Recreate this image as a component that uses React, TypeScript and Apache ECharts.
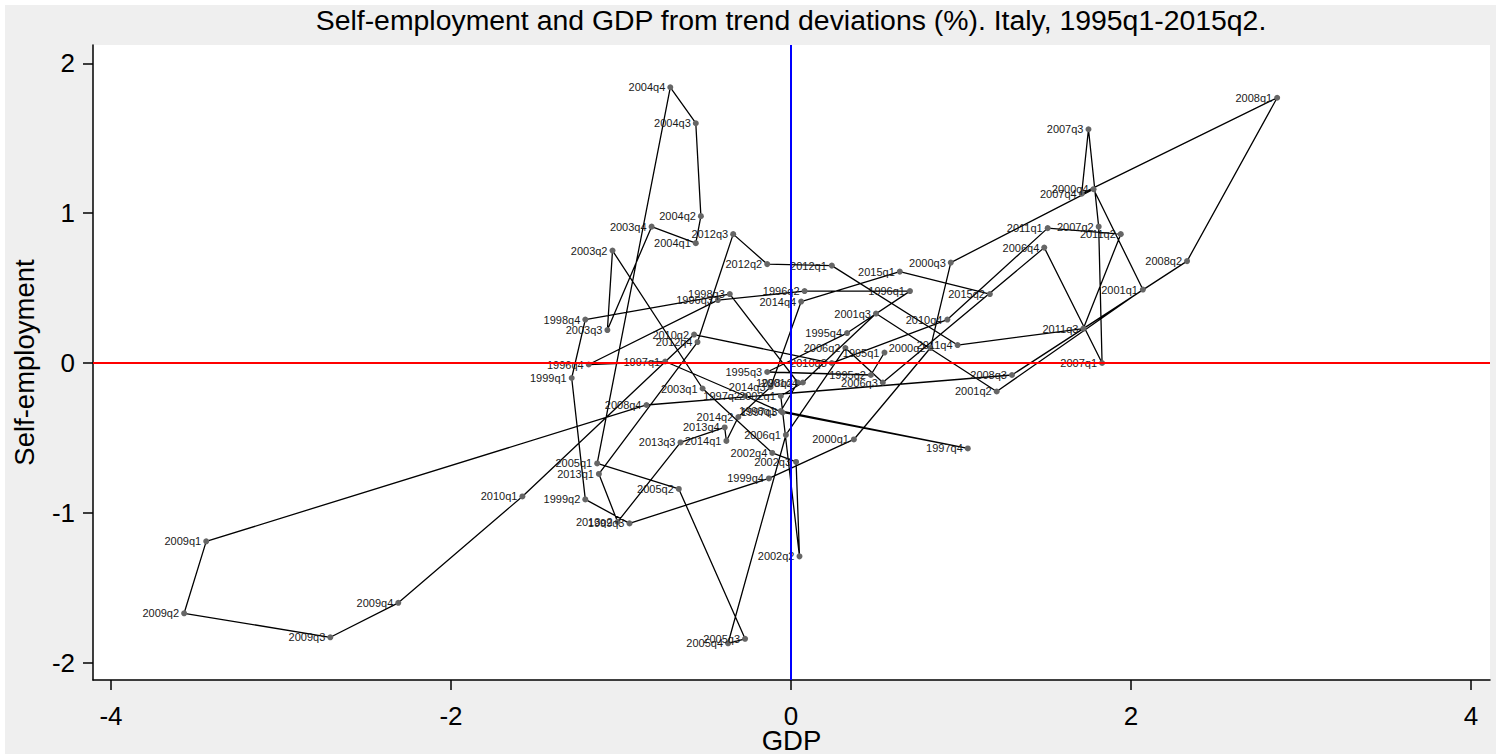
import { useEffect, useRef } from 'react'
import * as echarts from 'echarts'

// quarters, in time order (the path is drawn through them in this order)
const quarters = [
  '1995q1', '1995q2', '1995q3', '1995q4', '1996q1', '1996q2', '1996q3', '1996q4',
  '1997q1', '1997q2', '1997q3', '1997q4', '1998q1', '1998q2', '1998q3', '1998q4',
  '1999q1', '1999q2', '1999q3', '1999q4', '2000q1', '2000q2', '2000q3', '2000q4',
  '2001q1', '2001q2', '2001q3', '2001q4', '2002q1', '2002q2', '2002q3', '2002q4',
  '2003q1', '2003q2', '2003q3', '2003q4', '2004q1', '2004q2', '2004q3', '2004q4',
  '2005q1', '2005q2', '2005q3', '2005q4', '2006q1', '2006q2', '2006q3', '2006q4',
  '2007q1', '2007q2', '2007q3', '2007q4', '2008q1', '2008q2', '2008q3', '2008q4',
  '2009q1', '2009q2', '2009q3', '2009q4', '2010q1', '2010q2', '2010q3', '2010q4',
  '2011q1', '2011q2', '2011q3', '2011q4', '2012q1', '2012q2', '2012q3', '2012q4',
  '2013q1', '2013q2', '2013q3', '2013q4', '2014q1', '2014q2', '2014q3', '2014q4',
  '2015q1', '2015q2',
]

// GDP, deviation from trend (%)
const gdp = [
  0.55, 0.47, -0.14, 0.33, 0.70, 0.08, -0.43, -1.19,
  -0.74, -0.27, -0.05, 1.04, -0.06, 0.04, -0.36, -1.21,
  -1.29, -1.21, -0.95, -0.13, 0.37, 0.82, 0.94, 1.78,
  2.07, 1.21, 0.50, 0.07, -0.06, 0.05, 0.03, -0.11,
  -0.52, -1.05, -1.08, -0.82, -0.56, -0.53, -0.56, -0.71,
  -1.14, -0.66, -0.27, -0.37, -0.03, 0.32, 0.54, 1.49,
  1.83, 1.81, 1.75, 1.71, 2.86, 2.33, 1.30, -0.85,
  -3.44, -3.57, -2.71, -2.31, -1.58, -0.57, 0.24, 0.92,
  1.51, 1.94, 1.72, 0.98, 0.24, -0.14, -0.34, -0.55,
  -1.13, -1.02, -0.65, -0.39, -0.38, -0.31, -0.12, 0.06,
  0.64, 1.17,
]

// self-employment, deviation from trend (%)
const selfEmp = [
  0.07, -0.08, -0.06, 0.20, 0.48, 0.48, 0.42, -0.01,
  0.01, -0.22, -0.33, -0.57, -0.32, -0.13, 0.46, 0.29,
  -0.10, -0.91, -1.07, -0.77, -0.51, 0.10, 0.67, 1.16,
  0.49, -0.19, 0.33, -0.13, -0.22, -1.29, -0.66, -0.60,
  -0.17, 0.75, 0.22, 0.91, 0.80, 0.98, 1.60, 1.84,
  -0.67, -0.84, -1.84, -1.87, -0.48, 0.10, -0.13, 0.77,
  0.00, 0.91, 1.56, 1.13, 1.77, 0.68, -0.08, -0.28,
  -1.19, -1.67, -1.83, -1.60, -0.89, 0.19, 0.00, 0.29,
  0.90, 0.86, 0.23, 0.12, 0.65, 0.66, 0.86, 0.14,
  -0.74, -1.06, -0.53, -0.43, -0.52, -0.36, -0.16, 0.41,
  0.61, 0.46,
]

const xTicks = [-4, -2, 0, 2, 4]
const yTicks = [-2, -1, 0, 1, 2]

const FONT = '"Liberation Sans", Arial, Helvetica, sans-serif'

export default function App() {
  const ref = useRef<HTMLDivElement>(null)

  useEffect(() => {
    if (!ref.current) return
    const chart = echarts.init(ref.current, null, { renderer: 'svg' })

    const axisLine = { show: true, onZero: false, lineStyle: { color: '#000', width: 1.5 } }

    chart.setOption({
      animation: false,
      backgroundColor: '#efefef',
      title: {
        text: 'Self-employment and GDP from trend deviations (%). Italy, 1995q1-2015q2.',
        left: 781,
        top: -4,
        textAlign: 'center',
        textStyle: { fontFamily: FONT, fontSize: 28.4, fontWeight: 'normal', color: '#000' },
      },
      grid: {
        left: 88, top: 40, right: 6, bottom: 74,
        containLabel: false,
        outerBoundsMode: 'none',
        show: true, backgroundColor: '#fff', borderWidth: 0,
      },
      xAxis: {
        type: 'value',
        min: -4.106, max: 4.112,
        name: 'GDP',
        nameLocation: 'middle',
        nameGap: 46,
        nameMoveOverlap: false,
        nameTextStyle: { fontFamily: FONT, fontSize: 27.5, color: '#000' },
        axisLine,
        axisTick: { show: true, length: 10, customValues: xTicks, lineStyle: { color: '#000', width: 1.5 } },
        axisLabel: { customValues: xTicks, fontFamily: FONT, fontSize: 26, color: '#000', margin: 23 },
        splitLine: { show: false },
      },
      yAxis: {
        type: 'value',
        min: -2.115, max: 2.122,
        name: 'Self-employment',
        nameLocation: 'middle',
        nameGap: 55,
        nameMoveOverlap: false,
        nameTextStyle: { fontFamily: FONT, fontSize: 27.5, color: '#000' },
        axisLine,
        axisTick: { show: true, length: 10, customValues: yTicks, lineStyle: { color: '#000', width: 1.5 } },
        axisLabel: { customValues: yTicks, fontFamily: FONT, fontSize: 26, color: '#000', margin: 18 },
        splitLine: { show: false },
      },
      series: [{
        type: 'line',
        data: gdp.map((x, i) => ({ name: quarters[i], value: [x, selfEmp[i]] })),
        symbol: 'circle',
        symbolSize: 6,
        showAllSymbol: true,
        itemStyle: { color: '#666' },
        lineStyle: { color: '#000', width: 1.3 },
        label: {
          show: true,
          position: 'left',
          distance: 2,
          formatter: '{b}',
          fontFamily: FONT,
          fontSize: 11,
          color: '#1a1a1a',
        },
        emphasis: { disabled: true },
        markLine: {
          silent: true,
          symbol: ['none', 'none'],
          label: { show: false },
          data: [
            { yAxis: 0, lineStyle: { color: '#ff0000', width: 2, type: 'solid' } },
            { xAxis: 0, lineStyle: { color: '#0000ff', width: 2, type: 'solid' } },
          ],
        },
      }],
    })

    return () => { chart.dispose() }
  }, [])

  return (
    <div style={{ position: 'absolute', left: 0, top: 0, width: 1496, height: 754, background: '#fff' }}>
      <div ref={ref} style={{ position: 'absolute', left: 5, top: 5, width: 1491, height: 749 }} />
    </div>
  )
}
